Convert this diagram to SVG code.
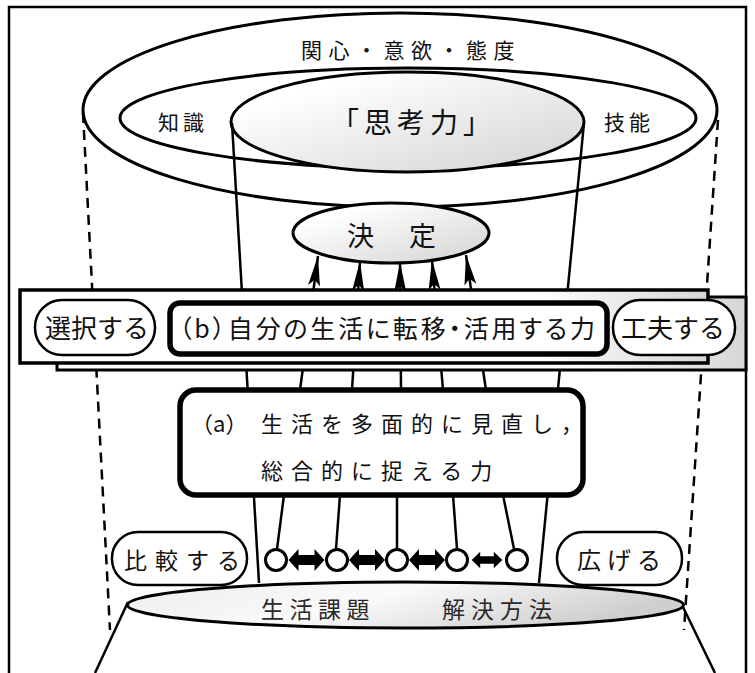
<svg xmlns="http://www.w3.org/2000/svg" width="755" height="673" viewBox="0 0 755 673">
<style>
text{font-family:'Noto Sans CJK JP','Noto Sans CJK SC',sans-serif;fill:#111}
.ln{fill:none;stroke:#000;stroke-width:2.5}
.el{stroke:#000;stroke-width:3}
.dash{fill:none;stroke:#000;stroke-width:2.5;stroke-dasharray:10 7}
.pill{fill:#fff;stroke:#000;stroke-width:2.5}
.thick{fill:#fff;stroke:#000;stroke-width:5.5}
.cir{fill:#fff;stroke:#000;stroke-width:3}
</style>
<defs>
<linearGradient id="gr" x1="0" y1="0" x2="1" y2="1"><stop offset="0.2" stop-color="#ffffff"/><stop offset="1" stop-color="#d2d2d2"/></linearGradient>
<linearGradient id="grh" x1="0" y1="0" x2="1" y2="0"><stop offset="0.75" stop-color="#ffffff"/><stop offset="1" stop-color="#d6d6d6"/></linearGradient>
<linearGradient id="grb" x1="0" y1="0" x2="1" y2="0.3"><stop offset="0" stop-color="#ececec"/><stop offset="0.5" stop-color="#fafafa"/><stop offset="1" stop-color="#cfcfcf"/></linearGradient>
<marker id="ah" markerUnits="userSpaceOnUse" markerWidth="32" markerHeight="14" refX="30" refY="6.5" orient="auto"><path d="M0,0.5 L30,6.5 L0,12.5 L6,6.5 Z" fill="#000"/></marker>
<path id="dbl" d="M-18,0 L-8,-11 L-8,-5 L8,-5 L8,-11 L18,0 L8,11 L8,5 L-8,5 L-8,11 Z" fill="#000"/>
</defs>

<path d="M9,673 V7 H746 V673" class="ln" stroke-width="3"/>

<g id="dashes">
<line x1="83" y1="113" x2="110" y2="630" class="dash"/>
<line x1="718" y1="120" x2="684" y2="630" class="dash"/>
</g>

<g id="attitude">
<ellipse cx="400" cy="110" rx="317" ry="97" class="el" fill="none"/>
<text x="301" y="58" font-size="21" letter-spacing="6.5">関心・意欲・態度</text>
</g>
<g id="knowledge-skill">
<ellipse cx="408" cy="118" rx="288" ry="50" class="el" fill="none"/>
<text x="158" y="130" font-size="21" letter-spacing="4">知識</text>
<text x="604" y="130" font-size="21" letter-spacing="4">技能</text>
</g>
<g id="thinking">
<ellipse cx="407.5" cy="122" rx="176.5" ry="50" class="el" fill="url(#gr)"/>
<text x="331" y="133" font-size="28" letter-spacing="5">「思考力」</text>
</g>

<g id="decision">
<ellipse cx="391" cy="233" rx="98" ry="30" class="el" fill="url(#gr)"/>
<text x="347" y="246" font-size="27" letter-spacing="4">決　定</text>
</g>

<g id="connectors">
<line x1="232" y1="123" x2="259" y2="583" class="ln"/>
<line x1="584" y1="123" x2="539" y2="583" class="ln"/>
<line x1="300" y1="390" x2="318" y2="256" class="ln" marker-end="url(#ah)"/>
<line x1="352" y1="390" x2="360" y2="261" class="ln" marker-end="url(#ah)"/>
<line x1="401" y1="390" x2="400" y2="262" class="ln" marker-end="url(#ah)"/>
<line x1="443" y1="390" x2="432" y2="260" class="ln" marker-end="url(#ah)"/>
<line x1="486" y1="390" x2="466" y2="255" class="ln" marker-end="url(#ah)"/>
<line x1="277" y1="549" x2="284" y2="495" class="ln"/>
<line x1="336" y1="549" x2="340" y2="495" class="ln"/>
<line x1="397" y1="549" x2="397" y2="495" class="ln"/>
<line x1="457" y1="549" x2="453" y2="495" class="ln"/>
<line x1="514" y1="549" x2="503" y2="495" class="ln"/>
<line x1="128" y1="602" x2="95" y2="673" class="ln"/>
<line x1="683" y1="607" x2="715" y2="673" class="ln"/>
</g>

<g id="b-panel">
<rect x="57" y="297" width="689" height="73" fill="url(#grh)" stroke="#000" stroke-width="3"/>
<rect x="20" y="290" width="688" height="73" fill="url(#grh)" stroke="#000" stroke-width="3.5"/>
</g>
<g id="select">
<rect x="35" y="300" width="120" height="55" rx="27" class="pill"/>
<text x="45" y="338" font-size="26">選択する</text>
</g>
<g id="b-box">
<rect x="170" y="303" width="437" height="51" rx="10" class="thick"/>
<text x="179" y="338" font-size="25" style="font-feature-settings:'palt'" textLength="416" lengthAdjust="spacing">（b）自分の生活に転移・活用する力</text>
</g>
<g id="devise">
<rect x="613" y="300" width="122" height="55" rx="27" class="pill"/>
<text x="621" y="338" font-size="26">工夫する</text>
</g>

<g id="a-box">
<rect x="180" y="390" width="403" height="105" rx="16" class="thick"/>
<text x="191" y="432" font-size="22">（a）</text>
<text x="261" y="432" font-size="22" letter-spacing="8">生活を多面的に見直し，</text>
<text x="261" y="479" font-size="22" letter-spacing="8">総合的に捉える力</text>
</g>

<g id="issue">
<ellipse cx="405.5" cy="605" rx="278" ry="23" class="el" fill="url(#grb)"/>
<text x="261" y="618" font-size="23" letter-spacing="5.5" style="fill:#2a2a2a">生活課題</text>
<text x="442" y="618" font-size="23" letter-spacing="6" style="fill:#2a2a2a">解決方法</text>
</g>

<g id="compare">
<rect x="112" y="532" width="135" height="53" rx="26" class="pill"/>
<text x="124" y="569" font-size="23" letter-spacing="8">比較する</text>
</g>
<g id="expand">
<rect x="557" y="532" width="125" height="53" rx="26" class="pill"/>
<text x="577" y="569" font-size="24" letter-spacing="6">広げる</text>
</g>

<g id="options">
<circle cx="276" cy="560" r="10.5" class="cir"/>
<circle cx="337" cy="560" r="10.5" class="cir"/>
<circle cx="397" cy="560" r="10.5" class="cir"/>
<circle cx="457" cy="560" r="10.5" class="cir"/>
<circle cx="517" cy="560" r="10.5" class="cir"/>
<use href="#dbl" x="306.5" y="560"/>
<use href="#dbl" x="367" y="560"/>
<use href="#dbl" x="427" y="560"/>
<use href="#dbl" transform="translate(487,560) scale(0.85,0.75)"/>
</g>
</svg>
